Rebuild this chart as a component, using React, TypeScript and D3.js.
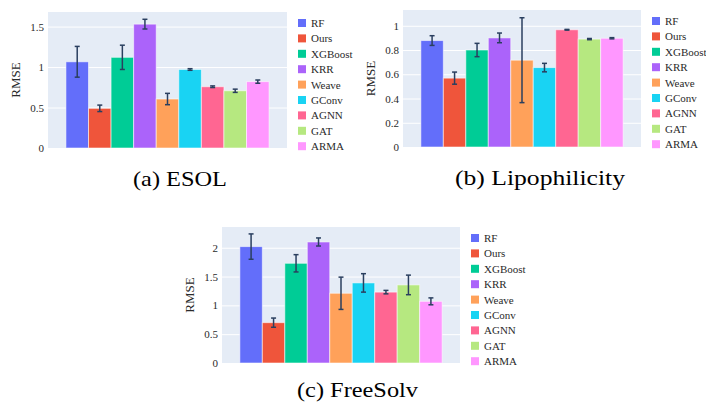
import React, { useRef, useEffect } from 'react';
import * as d3 from 'd3';

const models = ['RF', 'Ours', 'XGBoost', 'KRR', 'Weave', 'GConv', 'AGNN', 'GAT', 'ARMA'];
const colors = ['#636EFA', '#EF553B', '#00CC96', '#AB63FA', '#FFA15A', '#19D3F3', '#FF6692', '#B6E880', '#FF97FF'];

const esolRmse = [1.065, 0.49, 1.12, 1.53, 0.605, 0.97, 0.757, 0.707, 0.82];
const esolErr = [0.19, 0.04, 0.15, 0.06, 0.07, 0.01, 0.01, 0.02, 0.02];
const esolTicks = [0, 0.5, 1, 1.5];

const lipoRmse = [0.878, 0.568, 0.8, 0.9, 0.716, 0.655, 0.967, 0.89, 0.897];
const lipoErr = [0.04, 0.05, 0.055, 0.04, 0.35, 0.035, 0.003, 0.005, 0.005];
const lipoTicks = [0, 0.2, 0.4, 0.6, 0.8, 1];

const freeRmse = [2.02, 0.7, 1.73, 2.1, 1.21, 1.39, 1.23, 1.355, 1.07];
const freeErr = [0.22, 0.08, 0.15, 0.07, 0.28, 0.16, 0.03, 0.17, 0.06];
const freeTicks = [0, 0.5, 1, 1.5, 2];

const panels = [
  { caption: '(a) ESOL', values: esolRmse, errs: esolErr, ticks: esolTicks, yMax: 1.68,
    x0: 48, x1: 287, y0: 12, y1: 148, capX: 133, capW: 94, capY: 186 },
  { caption: '(b) Lipophilicity', values: lipoRmse, errs: lipoErr, ticks: lipoTicks, yMax: 1.13,
    x0: 403, x1: 641, y0: 10, y1: 147, capX: 455, capW: 170, capY: 185 },
  { caption: '(c) FreeSolv', values: freeRmse, errs: freeErr, ticks: freeTicks, yMax: 2.36,
    x0: 222, x1: 460, y0: 227, y1: 363, capX: 297, capW: 121, capY: 397 },
];

const SERIF = 'Liberation Serif, Tinos, DejaVu Serif, serif';

export default function App() {
  const svgRef = useRef<SVGSVGElement>(null);

  useEffect(() => {
    const svg = d3.select(svgRef.current);
    svg.selectAll('*').remove();

    panels.forEach((p) => {
      const g = svg.append('g').attr('font-family', SERIF);
      const w = p.x1 - p.x0;

      const y = d3.scaleLinear().domain([0, p.yMax]).range([p.y1, p.y0]);
      const x = d3
        .scaleBand()
        .domain(models)
        .range([p.x0 + w * 0.075, p.x1 - w * 0.075])
        .padding(0);

      g.append('rect')
        .attr('x', p.x0)
        .attr('y', p.y0)
        .attr('width', w)
        .attr('height', p.y1 - p.y0)
        .attr('fill', '#E5ECF6');

      // grid + tick labels
      g.append('g')
        .attr('transform', `translate(${p.x0},0)`)
        .call(
          d3.axisLeft(y)
            .tickValues(p.ticks)
            .tickSize(-w)
            .tickPadding(4)
            .tickFormat((d) => String(d))
        )
        .attr('font-family', SERIF)
        .attr('font-size', 11)
        .call((a) => a.select('.domain').remove())
        .call((a) => a.selectAll('line').attr('stroke', '#fff').attr('stroke-width', 1))
        .call((a) => a.selectAll('text').attr('fill', '#2a2a2a'));

      // bars
      g.selectAll('rect.bar')
        .data(models)
        .join('rect')
        .attr('class', 'bar')
        .attr('x', (d) => x(d)!)
        .attr('y', (_, i) => y(p.values[i]))
        .attr('width', x.bandwidth())
        .attr('height', (_, i) => p.y1 - y(p.values[i]))
        .attr('fill', (_, i) => colors[i])
        .attr('stroke', 'rgba(255,255,255,0.55)')
        .attr('stroke-width', 1);

      // error bars
      const eb = g.selectAll('g.err').data(models).join('g').attr('class', 'err')
        .attr('stroke', '#2a3f5f').attr('stroke-width', 1.5);
      const cx = (d: string) => x(d)! + x.bandwidth() / 2;
      eb.append('line')
        .attr('x1', cx).attr('x2', cx)
        .attr('y1', (_, i) => y(p.values[i] + p.errs[i]))
        .attr('y2', (_, i) => y(p.values[i] - p.errs[i]));
      eb.append('line')
        .attr('x1', (d) => cx(d) - 2.5).attr('x2', (d) => cx(d) + 2.5)
        .attr('y1', (_, i) => y(p.values[i] + p.errs[i]))
        .attr('y2', (_, i) => y(p.values[i] + p.errs[i]));
      eb.append('line')
        .attr('x1', (d) => cx(d) - 2.5).attr('x2', (d) => cx(d) + 2.5)
        .attr('y1', (_, i) => y(p.values[i] - p.errs[i]))
        .attr('y2', (_, i) => y(p.values[i] - p.errs[i]));

      // y title
      g.append('text')
        .attr('transform', `translate(${p.x0 - 28},${(p.y0 + p.y1) / 2}) rotate(-90)`)
        .attr('text-anchor', 'middle')
        .attr('fill', '#2a2a2a')
        .attr('font-size', 13)
        .text('RMSE');

      // legend
      const leg = g.selectAll('g.leg').data(models).join('g').attr('class', 'leg')
        .attr('transform', (_, i) => `translate(${p.x1 + 11},${p.y0 + 11 + i * 15.4})`);
      leg.append('rect')
        .attr('x', 0).attr('y', -4).attr('width', 8).attr('height', 8)
        .attr('fill', (_, i) => colors[i]);
      leg.append('text')
        .attr('x', 13).attr('y', 4)
        .attr('fill', '#2a2a2a')
        .attr('font-size', 11)
        .text((d) => d);

      // caption (stretched a bit to match the source figure)
      g.append('text')
        .attr('x', p.capX).attr('y', p.capY)
        .attr('fill', '#000')
        .attr('font-size', 21)
        .attr('textLength', p.capW)
        .attr('lengthAdjust', 'spacingAndGlyphs')
        .text(p.caption);
    });
  }, []);

  return (
    <svg
      ref={svgRef}
      width={706}
      height={402}
      style={{ position: 'absolute', left: 0, top: 0, background: '#fff' }}
    />
  );
}
